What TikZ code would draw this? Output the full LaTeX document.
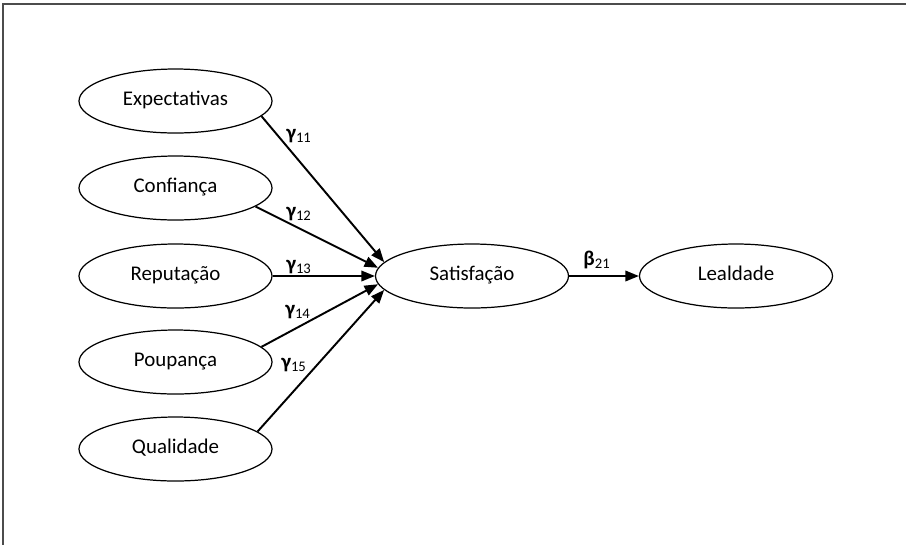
\documentclass[tikz,border=0pt]{standalone}
\usepackage{fontspec}
\setmainfont{Carlito}
\usetikzlibrary{arrows.meta,shapes.geometric}
\begin{document}
\begin{tikzpicture}[every node/.style={font=\fontsize{11.9}{14}\selectfont},
  latent/.style={draw,ellipse,line width=0.7pt,minimum width=3.86cm,minimum height=1.28cm,inner sep=0pt,text height=1.6ex,text depth=0.45ex},
  pathline/.style={line width=1.1pt,-{Triangle[length=0.27cm,width=0.21cm]}},
  coef/.style={inner sep=1pt}]
  \useasboundingbox (0,0) rectangle (18.12,-10.9);
  % frame
  \draw[black!70,line width=1.3pt] (18.12,-0.08) -- (0.06,-0.08) -- (0.06,-10.9);
  % exogenous constructs
  \node[latent] (exp) at (3.51,-2.02) {Expectativas};
  \node[latent] (con) at (3.51,-3.76) {Confiança};
  \node[latent] (rep) at (3.51,-5.52) {Reputação};
  \node[latent] (pou) at (3.51,-7.24) {Poupança};
  \node[latent] (qua) at (3.51,-8.98) {Qualidade};
  % endogenous constructs
  \node[latent] (sat) at (9.44,-5.52) {Satisfação};
  \node[latent] (lea) at (14.72,-5.52) {Lealdade};
  % paths
  \draw[pathline] (exp.-10) -- (sat.171);
  \draw[pathline] (con.-13) -- (sat.175);
  \draw[pathline] (rep) -- (sat);
  \draw[pathline] (pou.10) -- (sat.185);
  \draw[pathline] (qua.12) -- (sat.189);
  \draw[pathline] (sat) -- (lea);
  % coefficients
  \node[coef] (g11) at (5.98,-2.72) {\textbf{γ}\textsubscript{11}};
  \node[coef] (g12) at (5.98,-4.28) {\textbf{γ}\textsubscript{12}};
  \node[coef] (g13) at (5.98,-5.34) {\textbf{γ}\textsubscript{13}};
  \node[coef] (g14) at (5.96,-6.24) {\textbf{γ}\textsubscript{14}};
  \node[coef] (g15) at (5.88,-7.30) {\textbf{γ}\textsubscript{15}};
  \node[coef] (b21) at (11.94,-5.2) {\textbf{β}\textsubscript{21}};
\end{tikzpicture}
\end{document}
